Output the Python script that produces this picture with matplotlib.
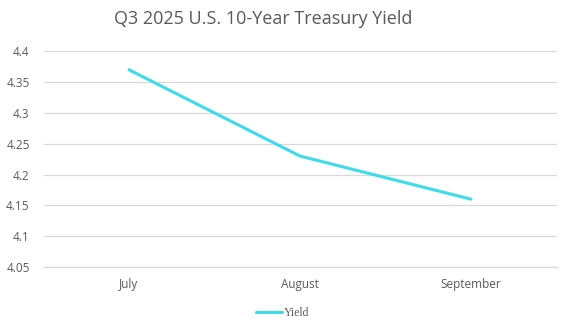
import matplotlib
matplotlib.use("Agg")
import matplotlib.pyplot as plt

months = ["July", "August", "September"]
yields = [4.37, 4.23, 4.16]
yticks = [4.05, 4.1, 4.15, 4.2, 4.25, 4.3, 4.35, 4.4]
ytick_labels = ["4.05", "4.1", "4.15", "4.2", "4.25", "4.3", "4.35", "4.4"]

fig = plt.figure(figsize=(5.65, 3.24), dpi=100)
ax = fig.add_axes([0.077, 0.176, 0.908, 0.6666])
x = list(range(len(months)))
line, = ax.plot(x, yields, color="#3EDCE8", lw=2.2, solid_capstyle="round", label="Yield")
ax.set_xlim(-0.5, len(months) - 0.5)
ax.set_ylim(yticks[0], 4.4005)
ax.set_yticks(yticks)
ax.set_yticklabels(ytick_labels)
ax.set_xticks(x)
ax.set_xticklabels(months)
for s in ax.spines.values():
    s.set_visible(False)
ax.spines["bottom"].set_visible(True)
ax.spines["bottom"].set_color("#d9d9d9")
ax.spines["bottom"].set_linewidth(0.9)
ax.grid(axis="y", color="#d9d9d9", lw=0.9)
ax.set_axisbelow(True)
ax.tick_params(length=0, colors="#595959", labelsize=8.5, labelfontfamily="Open Sans")
ax.tick_params(axis="x", pad=8)
ax.tick_params(axis="y", pad=10)
fig.text(0.466, 0.94, "Q3 2025 U.S. 10-Year Treasury Yield", ha="center", va="center",
         fontsize=13, color="#595959", family="Open Sans")
fig.legend(handles=[line], loc="center", bbox_to_anchor=(0.5, 0.035), frameon=False,
           prop={"family": "Liberation Serif", "size": 8.5}, labelcolor="#595959",
           handlelength=2.2, handletextpad=0.2)
fig.savefig("out.png", dpi=100)
